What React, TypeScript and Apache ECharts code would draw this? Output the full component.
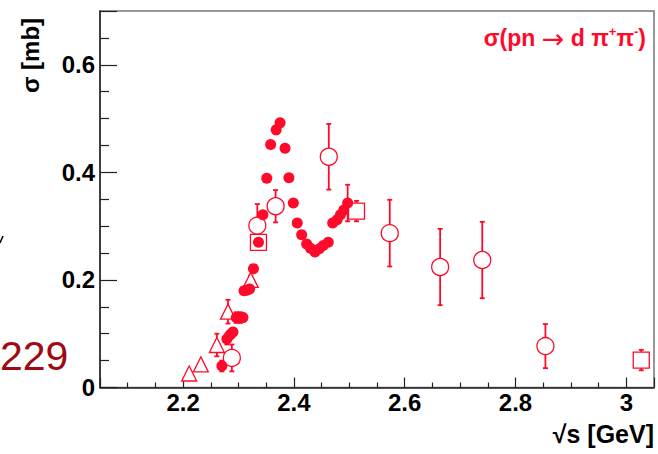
import React, { useEffect, useRef } from 'react';
import * as echarts from 'echarts';

const RED = '#ff0a2a';
const FONT = 'Liberation Sans, Arial, Helvetica, sans-serif';

// [sqrt(s) GeV, sigma mb, error mb]
const filledCircles: [number, number, number][] = [
  [2.270, 0.040, 0.010],
  [2.279, 0.090, 0.010],
  [2.285, 0.098, 0.008],
  [2.290, 0.103, 0.008],
  [2.296, 0.130, 0.010],
  [2.303, 0.130, 0.010],
  [2.308, 0.130, 0.008],
  [2.310, 0.180, 0.006],
  [2.315, 0.181, 0.006],
  [2.320, 0.183, 0.006],
  [2.327, 0.221, 0.006],
  [2.336, 0.270, 0.010],
  [2.344, 0.321, 0.006],
  [2.351, 0.389, 0],
  [2.358, 0.452, 0],
  [2.368, 0.479, 0],
  [2.375, 0.492, 0],
  [2.384, 0.445, 0],
  [2.391, 0.390, 0],
  [2.399, 0.343, 0],
  [2.406, 0.306, 0],
  [2.414, 0.284, 0],
  [2.423, 0.267, 0],
  [2.430, 0.259, 0],
  [2.438, 0.252, 0],
  [2.446, 0.258, 0],
  [2.453, 0.264, 0],
  [2.462, 0.270, 0],
  [2.470, 0.306, 0.005],
  [2.478, 0.312, 0.005],
  [2.484, 0.321, 0.005],
  [2.490, 0.330, 0.005],
  [2.497, 0.343, 0.034],
];

const openCircles: [number, number, number][] = [
  [2.288, 0.055, 0.025],
  [2.334, 0.301, 0.040],
  [2.367, 0.337, 0.030],
  [2.463, 0.429, 0.061],
  [2.573, 0.287, 0.062],
  [2.664, 0.224, 0.071],
  [2.740, 0.237, 0.071],
  [2.854, 0.077, 0.041],
];

const openSquares: [number, number, number][] = [
  [2.336, 0.270, 0],
  [2.513, 0.328, 0.019],
  [3.027, 0.051, 0.019],
];

const openTriangles: [number, number, number][] = [
  [2.211, 0.026, 0],
  [2.232, 0.043, 0],
  [2.261, 0.079, 0.021],
  [2.281, 0.141, 0.022],
  [2.322, 0.200, 0.008],
];

const X_MIN = 2.05;
const X_MAX = 3.05;
const Y_MIN = 0;
const Y_MAX = 0.7;
const Y_INTERVAL = 0.2;

const allPoints = [...filledCircles, ...openCircles, ...openSquares, ...openTriangles];

export default function App() {
  const ref = useRef<HTMLDivElement>(null);
  useEffect(() => {
    if (!ref.current) return;
    const chart = echarts.init(ref.current, null, { renderer: 'svg' });
    const labelStyle = { fontFamily: FONT, fontWeight: 'bold' as const, fontSize: 24, color: '#000' };
    const openStyle = { color: '#fff', borderColor: RED, borderWidth: 1.3, opacity: 1 };
    chart.setOption({
      animation: false,
      backgroundColor: '#fff',
      grid: {
        left: 100, right: 4, top: 11, bottom: 66.5,
        show: true, borderColor: '#777', borderWidth: 1.5, backgroundColor: 'transparent',
      },
      xAxis: {
        type: 'value', min: X_MIN, max: X_MAX, splitNumber: 5,
        axisLine: { show: true, lineStyle: { color: '#222', width: 1.5 } },
        axisTick: { show: true, inside: true, length: 10, lineStyle: { color: '#222', width: 1.2 } },
        minorTick: { show: true, splitNumber: 4, length: 5, lineStyle: { color: '#222', width: 1.2 } },
        splitLine: { show: false },
        axisLabel: { ...labelStyle, margin: 3, showMinLabel: false, showMaxLabel: false,
          formatter: (v: number) => String(Math.round(v * 10) / 10) },
      },
      yAxis: {
        type: 'value', min: Y_MIN, max: Y_MAX, interval: Y_INTERVAL,
        axisLine: { show: true, lineStyle: { color: '#222', width: 1.5 } },
        axisTick: { show: true, inside: true, length: 17, lineStyle: { color: '#222', width: 1.2 } },
        minorTick: { show: true, splitNumber: 4, length: 9, lineStyle: { color: '#222', width: 1.2 } },
        splitLine: { show: false },
        axisLabel: { ...labelStyle, margin: 5, showMaxLabel: false,
          formatter: (v: number) => (v === 0 ? '0' : String(Math.round(v * 10) / 10)) },
      },
      series: [
        {
          type: 'custom',
          z: 1,
          data: allPoints,
          encode: { x: 0, y: 1 },
          renderItem: (params: any, api: any) => {
            const x = api.value(0), y = api.value(1), e = api.value(2);
            if (!e) return { type: 'group', children: [] };
            const t = api.coord([x, y + e]);
            const b = api.coord([x, y - e]);
            const style = { stroke: RED, lineWidth: 1.8 };
            return {
              type: 'group',
              children: [
                { type: 'line', shape: { x1: t[0], y1: t[1], x2: b[0], y2: b[1] }, style },
                { type: 'line', shape: { x1: t[0] - 2.5, y1: t[1], x2: t[0] + 2.5, y2: t[1] }, style },
                { type: 'line', shape: { x1: b[0] - 2.5, y1: b[1], x2: b[0] + 2.5, y2: b[1] }, style },
              ],
            };
          },
        },
        {
          type: 'scatter', z: 4, data: openCircles, symbol: 'circle', symbolSize: 17,
          itemStyle: openStyle,
        },
        {
          type: 'scatter', z: 4, data: openSquares, symbol: 'rect', symbolSize: 16,
          itemStyle: openStyle,
        },
        {
          type: 'scatter', z: 4, data: openTriangles, symbol: 'triangle', symbolSize: 15,
          itemStyle: openStyle,
        },
        {
          type: 'scatter', z: 5, data: filledCircles, symbol: 'circle', symbolSize: 11,
          itemStyle: { color: RED, opacity: 1 },
        },
      ],
      graphic: [
        {
          type: 'text', x: 30, y: 93, rotation: Math.PI / 2,
          style: { text: 'σ [mb]', fontFamily: FONT, fontWeight: 'bold', fontSize: 24, fill: '#000',
            textAlign: 'left', textVerticalAlign: 'middle' },
        },
        {
          type: 'text', x: 654, y: 434,
          style: { text: '√s [GeV]', fontFamily: FONT, fontWeight: 'bold', fontSize: 25, fill: '#000',
            textAlign: 'right', textVerticalAlign: 'middle' },
        },
        {
          type: 'text', x: 646, y: 38,
          style: {
            text: '{a|σ(pn }{r|→}{a| d π}{s|+}{a|π}{s|-}{a|)}',
            textAlign: 'right', textVerticalAlign: 'middle',
            rich: {
              a: { fontFamily: FONT, fontWeight: 'bold', fontSize: 23, fill: RED, lineHeight: 26 },
              r: { fontFamily: 'DejaVu Sans, sans-serif', fontWeight: 'normal', fontSize: 27, fill: RED, lineHeight: 26 },
              s: { fontFamily: FONT, fontWeight: 'bold', fontSize: 13, fill: RED, verticalAlign: 'top', lineHeight: 26 },
            },
          },
        },
        {
          type: 'text', x: 0, y: 356,
          style: { text: '229', fontFamily: FONT, fontSize: 41, fill: '#a00a14',
            textAlign: 'left', textVerticalAlign: 'middle' },
        },
        {
          type: 'line', shape: { x1: 0, y1: 243, x2: 3, y2: 236 },
          style: { stroke: '#000', lineWidth: 1.5 },
        },
      ],
    });
    return () => chart.dispose();
  }, []);
  return <div ref={ref} style={{ width: 658, height: 454, position: 'absolute', left: 0, top: 0 }} />;
}
